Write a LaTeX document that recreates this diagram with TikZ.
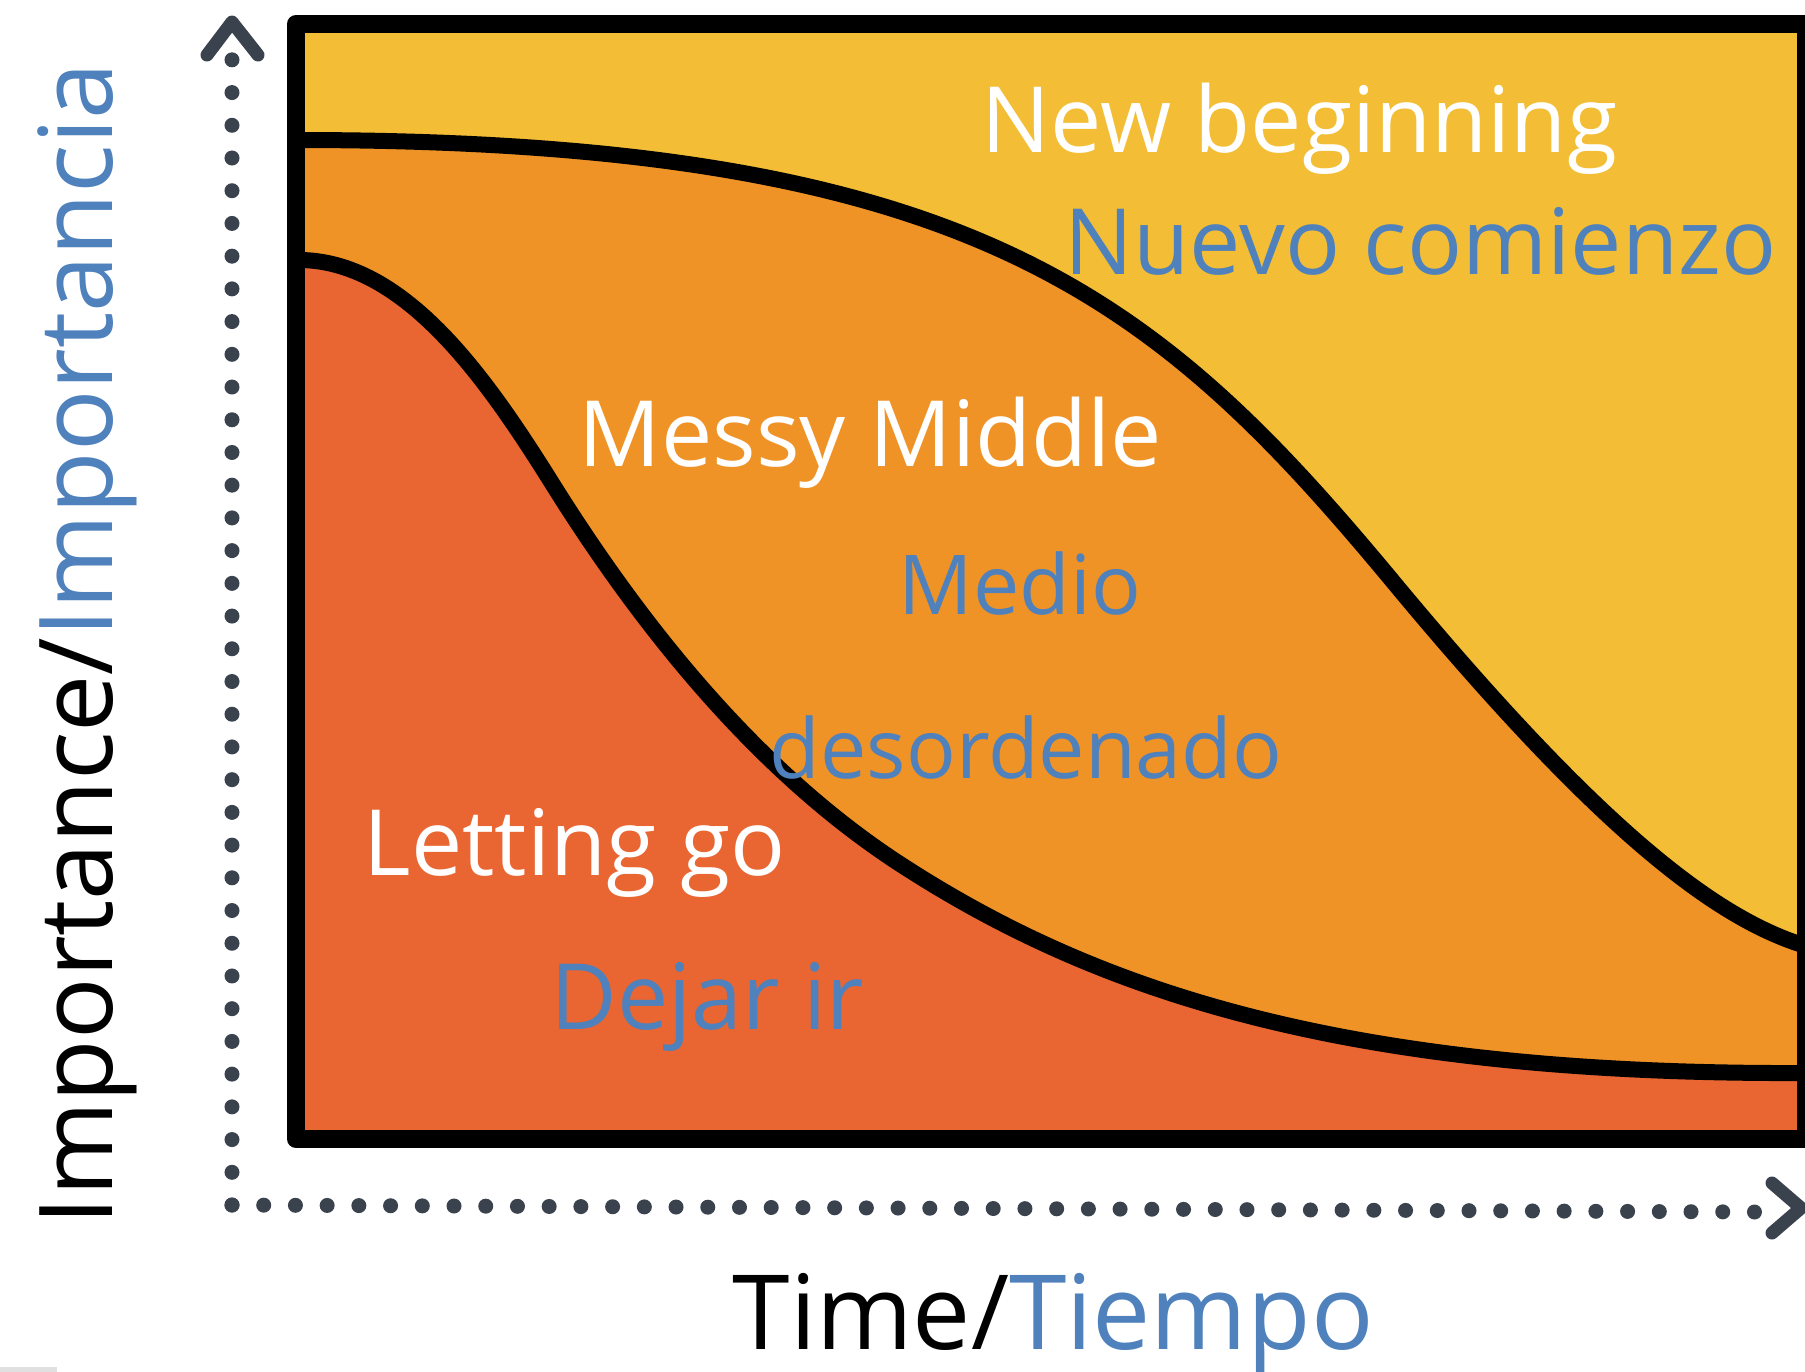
\documentclass[tikz,border=0pt]{standalone}
\usepackage{fontspec}
\setmainfont{Open Sans}
\definecolor{newyellow}{HTML}{F3BE35}
\definecolor{midorange}{HTML}{EF9327}
\definecolor{letred}{HTML}{E96632}
\definecolor{txtblue}{HTML}{4F81BD}
\definecolor{axisgray}{HTML}{3A434D}
\tikzset{
  lbl/.style={anchor=base west, inner sep=0pt, font=\fontsize{26}{30}\selectfont},
  smalllbl/.style={lbl, font=\fontsize{23.5}{28}\selectfont},
  axislbl/.style={anchor=base west, inner sep=0pt, font=\fontsize{29.5}{34}\selectfont},
  curve/.style={line width=1.6mm, line join=round},
  axisdots/.style={draw=axisgray, line width=1.5mm, line cap=round, dash pattern=on 0pt off #1},
  chevron/.style={draw=axisgray, line width=1.3mm, line cap=round, line join=round},
}
\begin{document}
\begin{tikzpicture}[x=0.01cm, y=-0.01cm]
\useasboundingbox (0,0) rectangle (1805,1372);
\clip (0,0) rectangle (1805,1372);
\fill[white] (0,0) rectangle (1805,1372);
\fill[black!12] (0,1367) rectangle (57,1372);

% axes
\coordinate (origin) at (232,1205);
\coordinate (ytop) at (232,58);
\coordinate (xend) at (1756,1212);
\draw[axisdots=3.27mm] (origin) -- (ytop);
\draw[axisdots=3.17mm] (origin) -- (xend);
\draw[chevron] (207,55) -- (232,22) -- (258,55);
\draw[chevron] (1772,1183) -- (1801,1208) -- (1772,1233);

% phases
\fill[newyellow] (296,24) rectangle (1806,1139);
\filldraw[fill=midorange, curve] (296,140) .. controls (980,140) and (1160,300) .. (1400,590)
  .. controls (1600,830) and (1716,919) .. (1806,946)
  -- (1806,1139) -- (296,1139) -- cycle;
\filldraw[fill=letred, curve] (296,260) .. controls (406,258) and (490,384) .. (555,488)
  .. controls (680,687) and (800,799) .. (900,864)
  .. controls (1100,994) and (1350,1075) .. (1806,1073)
  -- (1806,1139) -- (296,1139) -- cycle;
\draw[line width=1.8mm, line join=round] (296,24) rectangle (1806,1139);

% labels
\node[lbl, white] (newbeg) at (981,152) {New beginning};
\node[lbl, txtblue] (nuevo) at (1064,274) {Nuevo comienzo};
\node[lbl, white] (messy) at (578,466) {Messy Middle};
\node[smalllbl, txtblue] (medio) at (898,614) {Medio};
\node[smalllbl, txtblue] (desord) at (769,778) {desordenado};
\node[lbl, white] (letgo) at (363,875) {Letting go};
\node[lbl, txtblue] (dejar) at (550,1029) {Dejar ir};
\node[axislbl] (xlab) at (732,1349) {Time/\textcolor{txtblue}{Tiempo}};
\node[axislbl, font=\fontsize{29}{34}\selectfont, rotate=90] (ylab) at (112,1226) {Importance/\textcolor{txtblue}{Importancia}};
\end{tikzpicture}
\end{document}
